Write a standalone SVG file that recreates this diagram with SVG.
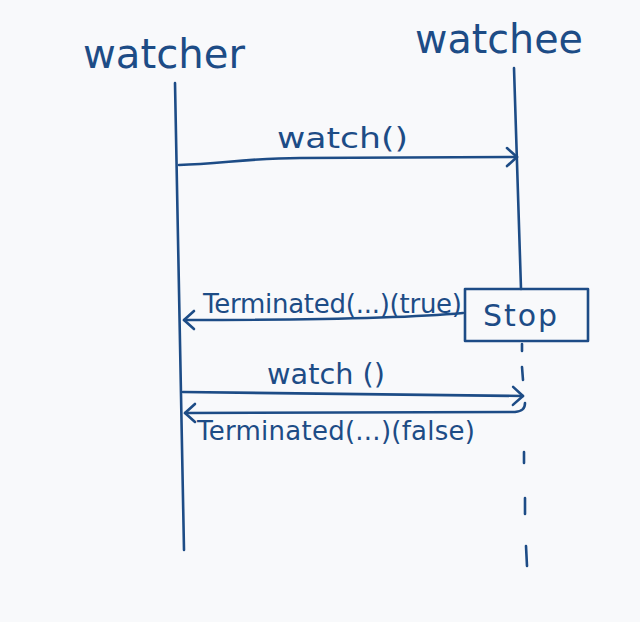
<svg xmlns="http://www.w3.org/2000/svg" width="640" height="622" viewBox="0 0 640 622">
  <style>
    .ink { stroke: #1d4c86; stroke-width: 2.6; fill: none; stroke-linecap: round; stroke-linejoin: round; }
    .lbl { font-family: "DejaVu Sans", "Liberation Sans", sans-serif; fill: #1d4c86; }
    .head { font-size: 41px; }
    .msg { font-size: 26px; }
    .call { font-size: 29px; }
  </style>
  <defs>
    <marker id="chev" markerUnits="userSpaceOnUse" viewBox="-14 -12 16 24" refX="0" refY="0" markerWidth="16" markerHeight="24" orient="auto">
      <path d="M -10 -9 L 0 0 L -10 9" fill="none" stroke="#1d4c86" stroke-width="2.6" stroke-linecap="round" stroke-linejoin="round"/>
    </marker>
  </defs>
  <rect x="0" y="0" width="640" height="622" fill="#f8f9fb"/>

  <g id="watcher">
    <text class="lbl head" x="83" y="68" textLength="162" lengthAdjust="spacingAndGlyphs">watcher</text>
    <path class="ink" d="M175 83 L184 550"/>
  </g>

  <g id="watchee">
    <text class="lbl head" x="415" y="53" textLength="168" lengthAdjust="spacingAndGlyphs">watchee</text>
    <path class="ink" d="M514 68 L521 289"/>
    <path class="ink" d="M522 344 L522 351 M522 367 L523 380 M524 452 L524 463 M525 498 L525 514 M526 546 L527 566"/>
  </g>

  <g id="stop">
    <rect class="ink" x="465" y="289" width="123" height="52"/>
    <text class="lbl" style="font-size:30px" x="483" y="326" textLength="74">Stop</text>
  </g>

  <g id="connectors">
    <path class="ink" d="M179 165 C 220 164, 250 158, 300 158 L 517 157" marker-end="url(#chev)"/>
    <text class="lbl call" x="277" y="148" textLength="131" lengthAdjust="spacingAndGlyphs">watch()</text>

    <path class="ink" d="M463 313 C 420 317, 320 320, 184 320" marker-end="url(#chev)"/>
    <text class="lbl msg" x="203" y="313" textLength="259">Terminated(...)(true)</text>

    <path class="ink" d="M183 392 L 523 396" marker-end="url(#chev)"/>
    <text class="lbl call" x="267" y="384" textLength="118" lengthAdjust="spacingAndGlyphs">watch ()</text>

    <path class="ink" d="M525 403 C 525 409, 522 411, 515 412 L 185 413" marker-end="url(#chev)"/>
    <text class="lbl msg" x="197" y="440" textLength="278">Terminated(...)(false)</text>
  </g>
</svg>
